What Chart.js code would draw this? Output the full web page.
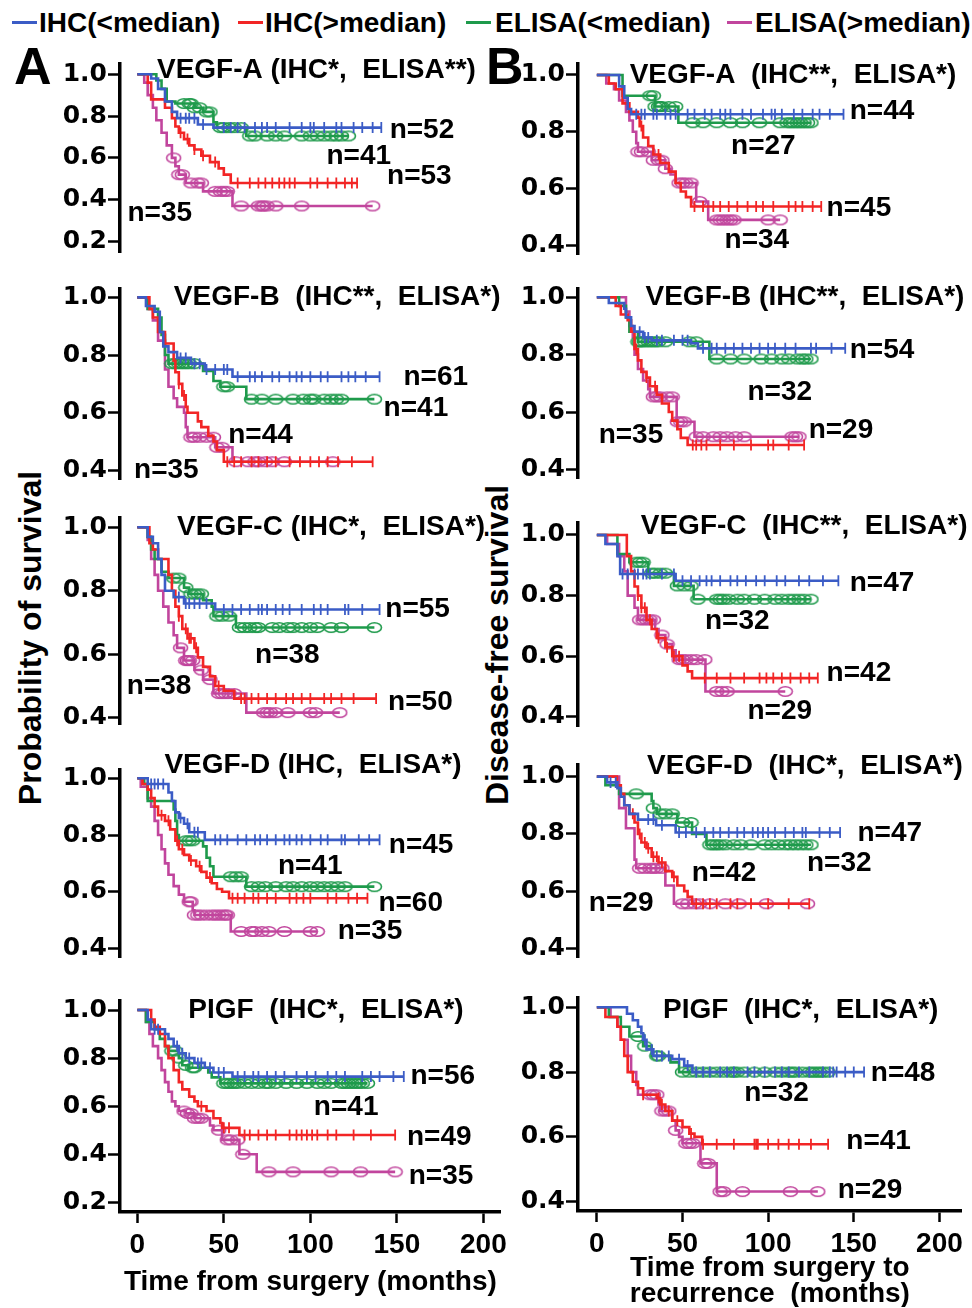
<!DOCTYPE html>
<html>
<head>
<meta charset="utf-8">
<title>VEGF family Kaplan-Meier curves</title>
<script src="https://cdn.jsdelivr.net/npm/chart.js@4.4.1/dist/chart.umd.min.js"></script>
<style>
  body { margin: 0; background: #fff; }
  #page { position: relative; width: 972px; height: 1308px; overflow: hidden; background: #fff; }
  #page canvas { position: absolute; }
  .txt { position: absolute; font-family: "Liberation Sans", Arial, sans-serif; font-weight: bold; color: #000; white-space: nowrap; }
  .dash { position: absolute; height: 3px; }
</style>
</head>
<body>
<div id="page"></div>
<script>
// ---- axis ticks / labels ----
const xTicks = [0, 50, 100, 150, 200];
const yTicksLong = [0.2, 0.4, 0.6, 0.8, 1.0];
const yTicksShort = [0.4, 0.6, 0.8, 1.0];
const groupNames = ['IHC(<median)', 'IHC(>median)', 'ELISA(<median)', 'ELISA(>median)'];
const osTitles = ['VEGF-A (IHC*,  ELISA**)', 'VEGF-B  (IHC**,  ELISA*)', 'VEGF-C (IHC*,  ELISA*)', 'VEGF-D (IHC,  ELISA*)', 'PIGF  (IHC*,  ELISA*)'];
const dfsTitles = ['VEGF-A  (IHC**,  ELISA*)', 'VEGF-B (IHC**,  ELISA*)', 'VEGF-C  (IHC**,  ELISA*)', 'VEGF-D  (IHC*,  ELISA*)', 'PIGF  (IHC*,  ELISA*)'];

// ---- overall survival (left column). _t event times, _s survival after event, _c censored times ----
const osA_ihcLo_t = [0, 8, 12, 16, 20, 23, 35, 44];
const osA_ihcLo_s = [1, .98, .93, .87, .82, .79, .76, .745];
const osA_ihcLo_c = [25, 28, 30, 33, 38, 50, 54, 58, 62, 68, 72, 75, 80, 88, 95, 100, 102, 108, 115, 118, 125, 130, 136, 141];
const osA_ihcHi_t = [0, 6, 8, 16, 20, 22, 24, 27, 30, 33, 37, 42, 47, 50, 54];
const osA_ihcHi_s = [1, .96, .88, .84, .79, .75, .72, .69, .66, .64, .61, .58, .55, .52, .48];
const osA_ihcHi_c = [25, 29, 33, 38, 45, 58, 65, 70, 74, 78, 82, 85, 88, 91, 100, 104, 110, 115, 120, 124, 127];
const osA_elLo_t = [0, 11, 14, 17, 22, 33, 38, 44, 46, 63];
const osA_elLo_s = [1, .97, .93, .87, .86, .84, .82, .77, .745, .705];
const osA_elLo_c = [27, 30, 31, 33, 36, 40, 42, 48, 50, 53, 56, 60, 65, 68, 75, 80, 85, 95, 100, 104, 108, 112, 115, 118, 122];
const osA_elHi_t = [0, 4, 6, 9, 11, 14, 17, 20, 22, 24, 28, 38, 55];
const osA_elHi_s = [1, .96, .9, .84, .78, .72, .66, .6, .56, .52, .48, .44, .37];
const osA_elHi_c = [21, 24, 26, 31, 35, 37, 45, 48, 50, 52, 60, 70, 72, 73, 75, 80, 95, 136];
const osA_n = [52, 41, 53, 35];

const osB_ihcLo_t = [0, 5, 10, 13, 15, 18, 23, 31, 39, 55];
const osB_ihcLo_s = [1, .97, .95, .88, .83, .81, .79, .77, .75, .725];
const osB_ihcLo_c = [25, 28, 33, 36, 40, 45, 50, 52, 58, 65, 68, 72, 78, 82, 88, 92, 95, 100, 106, 110, 118, 122, 126, 132, 140];
const osB_ihcHi_t = [0, 7, 9, 12, 16, 21, 22, 24, 26, 28, 29, 35, 37, 41, 44, 46, 50];
const osB_ihcHi_s = [1, .96, .93, .88, .84, .78, .74, .7, .66, .62, .6, .57, .55, .52, .5, .47, .43];
const osB_ihcHi_c = [24, 27, 52, 56, 60, 66, 70, 75, 80, 88, 94, 100, 105, 110, 116, 124, 136];
const osB_elLo_t = [0, 6, 12, 14, 16, 18, 38, 44, 48, 63];
const osB_elLo_s = [1, .96, .93, .87, .8, .77, .745, .71, .69, .647];
const osB_elLo_c = [20, 22, 24, 26, 28, 30, 33, 50, 52, 66, 72, 80, 90, 96, 100, 102, 108, 112, 115, 118, 137];
const osB_elHi_t = [0, 6, 9, 12, 16, 18, 21, 23, 27, 28, 29, 45, 55];
const osB_elHi_s = [1, .96, .92, .85, .75, .69, .65, .62, .6, .55, .515, .48, .43];
const osB_elHi_c = [31, 33, 36, 40, 44, 46, 49, 57, 64, 68, 70, 74, 78, 85, 113];
const osB_n = [61, 41, 44, 35];

const osC_ihcLo_t = [0, 6, 9, 12, 14, 16, 21, 27, 45];
const osC_ihcLo_s = [1, .97, .95, .9, .85, .8, .78, .76, .741];
const osC_ihcLo_c = [24, 28, 30, 33, 36, 40, 50, 55, 60, 65, 70, 72, 75, 80, 84, 88, 95, 102, 106, 110, 120, 122, 130, 140];
const osC_ihcHi_t = [0, 7, 9, 12, 18, 20, 22, 24, 26, 29, 33, 35, 38, 42, 45, 50, 56];
const osC_ihcHi_s = [1, .95, .93, .9, .85, .8, .75, .72, .68, .65, .62, .59, .56, .53, .5, .485, .46];
const osC_ihcHi_c = [24, 28, 30, 31, 34, 47, 60, 62, 66, 70, 75, 80, 86, 90, 95, 100, 108, 112, 118, 125, 138];
const osC_elLo_t = [0, 6, 8, 10, 14, 18, 27, 30, 38, 43, 44, 57];
const osC_elLo_s = [1, .97, .93, .9, .86, .84, .81, .79, .77, .75, .72, .684];
const osC_elLo_c = [21, 24, 28, 31, 33, 35, 37, 46, 49, 53, 59, 62, 65, 68, 70, 78, 82, 87, 90, 95, 100, 104, 112, 118, 137];
const osC_elHi_t = [0, 6, 8, 10, 12, 15, 18, 21, 23, 27, 33, 38, 44, 63];
const osC_elHi_s = [1, .96, .9, .85, .8, .75, .7, .66, .62, .58, .55, .52, .476, .416];
const osC_elHi_c = [25, 28, 29, 30, 32, 37, 42, 47, 49, 51, 53, 56, 73, 75, 77, 80, 87, 100, 103, 117];
const osC_n = [55, 38, 38, 50];

const osD_ihcLo_t = [0, 6, 18, 20, 22, 24, 27, 30, 39];
const osD_ihcLo_s = [1, .98, .95, .92, .88, .86, .84, .81, .783];
const osD_ihcLo_c = [8, 10, 12, 15, 25, 29, 33, 35, 45, 48, 52, 58, 63, 68, 71, 75, 80, 85, 88, 92, 95, 100, 106, 110, 118, 120, 128, 134, 140];
const osD_ihcHi_t = [0, 3, 6, 8, 10, 12, 16, 19, 22, 24, 27, 30, 34, 37, 40, 43, 46, 49, 53];
const osD_ihcHi_s = [1, .98, .96, .93, .9, .87, .85, .82, .78, .75, .73, .71, .69, .67, .65, .63, .61, .6, .577];
const osD_ihcHi_c = [14, 18, 23, 26, 31, 36, 42, 55, 58, 62, 67, 70, 75, 80, 88, 92, 96, 100, 110, 115, 122, 127, 133];
const osD_elLo_t = [0, 4, 6, 21, 22, 23, 24, 38, 40, 42, 44, 63];
const osD_elLo_s = [1, .98, .92, .89, .85, .8, .78, .76, .72, .69, .653, .618];
const osD_elLo_c = [28, 30, 32, 54, 57, 60, 66, 70, 74, 80, 86, 90, 95, 100, 104, 108, 112, 116, 120, 137];
const osD_elHi_t = [0, 2, 6, 8, 10, 12, 14, 16, 18, 21, 24, 27, 32, 33, 54];
const osD_elHi_s = [1, .97, .93, .9, .85, .8, .75, .7, .66, .62, .59, .565, .535, .518, .46];
const osD_elHi_c = [30, 31, 33, 35, 37, 40, 43, 45, 47, 49, 51, 52, 60, 66, 68, 72, 76, 85, 100, 104];
const osD_n = [45, 41, 60, 35];

const osP_ihcLo_t = [0, 6, 8, 16, 18, 21, 24, 28, 33, 39, 44, 55];
const osP_ihcLo_s = [1, .96, .92, .9, .88, .85, .82, .8, .78, .76, .74, .723];
const osP_ihcLo_c = [10, 12, 23, 26, 30, 35, 37, 42, 47, 50, 58, 62, 67, 70, 75, 80, 85, 92, 98, 103, 110, 115, 120, 130, 135, 140, 148, 154];
const osP_ihcHi_t = [0, 8, 10, 13, 16, 18, 21, 24, 26, 30, 33, 35, 40, 44, 48, 49, 59];
const osP_ihcHi_s = [1, .96, .93, .9, .85, .8, .75, .7, .67, .64, .62, .6, .58, .55, .53, .51, .48];
const osP_ihcHi_c = [37, 50, 53, 62, 65, 70, 75, 80, 88, 92, 95, 98, 101, 104, 110, 115, 125, 135, 149];
const osP_elLo_t = [0, 5, 10, 13, 16, 18, 24, 26, 30, 41, 43, 48];
const osP_elLo_s = [1, .95, .92, .88, .85, .83, .8, .77, .76, .74, .72, .695];
const osP_elLo_c = [20, 22, 24, 28, 32, 33, 50, 52, 54, 56, 58, 62, 66, 70, 74, 76, 80, 86, 92, 98, 104, 108, 112, 118, 120, 122, 124, 126, 128, 130, 133];
const osP_elHi_t = [0, 5, 7, 9, 12, 14, 16, 18, 20, 22, 24, 28, 33, 42, 44, 49, 59, 69];
const osP_elHi_s = [1, .95, .9, .85, .8, .75, .7, .66, .62, .6, .58, .57, .55, .52, .5, .46, .4, .327];
const osP_elHi_c = [27, 29, 31, 33, 35, 37, 47, 52, 54, 58, 61, 76, 90, 112, 129, 149];
const osP_n = [56, 41, 49, 35];

// ---- disease-free survival (right column) ----
const dfsA_ihcLo_t = [0, 13, 16, 18, 20];
const dfsA_ihcLo_s = [1, .96, .92, .88, .862];
const dfsA_ihcLo_c = [23, 26, 28, 33, 35, 40, 43, 46, 53, 57, 63, 67, 72, 75, 78, 85, 90, 97, 102, 104, 108, 115, 120, 126, 130, 136, 144];
const dfsA_ihcHi_t = [0, 7, 11, 15, 19, 24, 25, 27, 30, 33, 37, 42, 46, 49, 52, 55];
const dfsA_ihcHi_s = [1, .97, .95, .9, .87, .85, .82, .78, .75, .72, .69, .66, .62, .59, .57, .537];
const dfsA_ihcHi_c = [26, 36, 57, 62, 68, 72, 77, 82, 88, 93, 97, 103, 112, 116, 120, 126, 131];
const dfsA_elLo_t = [0, 15, 34, 47.6];
const dfsA_elLo_s = [1, .927, .889, .832];
const dfsA_elLo_c = [31, 33, 34, 36, 37, 38, 42, 46, 56, 62, 70, 78, 85, 95, 107, 111, 113, 115, 117, 119, 121, 123, 125];
const dfsA_elHi_t = [0, 5.5, 10, 13, 17, 19, 21, 23, 24, 32, 40, 43, 46, 58, 65];
const dfsA_elHi_s = [1, .97, .95, .91, .87, .84, .8, .76, .73, .7, .67, .65, .62, .555, .49];
const dfsA_elHi_c = [24, 26, 30, 33, 36, 38, 40, 48, 50, 52, 55, 60, 70, 72, 74, 76, 78, 80, 100, 107];
const dfsA_n = [44, 27, 45, 34];

const dfsB_ihcLo_t = [0, 7, 16, 17, 20, 22, 27, 32, 55, 59];
const dfsB_ihcLo_s = [1, .98, .96, .93, .9, .88, .86, .85, .84, .822];
const dfsB_ihcLo_c = [25, 28, 30, 35, 38, 45, 50, 53, 62, 67, 70, 75, 80, 85, 90, 95, 100, 104, 110, 116, 125, 128, 137, 145];
const dfsB_ihcHi_t = [0, 11, 14, 18, 20, 22, 24, 26, 29, 31, 35, 38, 42, 44, 47, 49, 53];
const dfsB_ihcHi_s = [1, .97, .94, .92, .88, .82, .78, .74, .72, .69, .66, .63, .6, .57, .54, .51, .485];
const dfsB_ihcHi_c = [23, 29, 34, 56, 58, 61, 64, 72, 80, 90, 100, 103, 112, 121];
const dfsB_elLo_t = [0, 13, 17, 19, 24, 65.7];
const dfsB_elLo_s = [1, .97, .93, .88, .845, .785];
const dfsB_elLo_c = [24, 25, 26, 28, 30, 32, 34, 36, 40, 54, 58, 70, 78, 86, 96, 102, 108, 112, 117, 120, 122, 125];
const dfsB_elHi_t = [0, 17, 19, 21, 22, 24, 27, 30, 31, 46.6, 57];
const dfsB_elHi_s = [1, .95, .9, .86, .8, .75, .71, .68, .653, .566, .514];
const dfsB_elHi_c = [33, 35, 37, 41, 44, 47, 49, 51, 58, 62, 68, 72, 76, 81, 86, 114, 116, 118];
const dfsB_n = [54, 32, 35, 29];

const dfsC_ihcLo_t = [0, 5, 12, 13.6, 46];
const dfsC_ihcLo_s = [1, .97, .93, .871, .849];
const dfsC_ihcLo_c = [15, 18, 22, 24, 27, 29, 31, 38, 45, 50, 55, 60, 64, 67, 72, 78, 82, 87, 93, 98, 105, 110, 118, 124, 132, 141];
const dfsC_ihcHi_t = [0, 17.5, 20, 22, 24, 26, 29, 32, 35, 40, 44, 50, 53, 55.6];
const dfsC_ihcHi_s = [1, .93, .88, .83, .8, .76, .72, .69, .66, .63, .6, .57, .55, .528];
const dfsC_ihcHi_c = [24, 26, 28, 31, 36, 41, 45, 48, 63, 70, 78, 86, 95, 99, 103, 108, 113, 119, 124, 129];
const dfsC_elLo_t = [0, 12, 19, 30, 45, 56.5];
const dfsC_elLo_s = [1, .937, .91, .874, .832, .788];
const dfsC_elLo_c = [23, 25, 27, 32, 34, 37, 40, 47, 51, 55, 59, 70, 72, 74, 77, 82, 86, 92, 98, 104, 108, 112, 115, 118, 121, 125];
const dfsC_elHi_t = [0, 6, 13, 16, 18, 22, 24, 34, 36, 40, 44, 46, 63.4];
const dfsC_elHi_s = [1, .97, .93, .88, .8, .76, .72, .69, .67, .64, .62, .589, .484];
const dfsC_elHi_c = [25, 27, 29, 31, 33, 38, 41, 48, 50, 52, 55, 58, 63, 70, 73, 76, 110];
const dfsC_n = [47, 32, 42, 29];

const dfsD_ihcLo_t = [0, 6, 12, 14, 16, 19, 24, 34.6, 46];
const dfsD_ihcLo_s = [1, .98, .96, .93, .9, .87, .85, .83, .805];
const dfsD_ihcLo_c = [8, 11, 30, 33, 38, 48, 52, 58, 63, 68, 72, 77, 82, 86, 91, 94, 97, 100, 104, 110, 115, 120, 122, 130, 136, 142];
const dfsD_ihcHi_t = [0, 11.7, 14, 16, 19, 22, 24, 26, 29, 32, 36, 40, 44, 47, 51, 53, 55.6];
const dfsD_ihcHi_s = [1, .97, .94, .9, .87, .84, .8, .77, .75, .72, .7, .67, .65, .62, .6, .58, .556];
const dfsD_ihcHi_c = [21, 25, 28, 30, 33, 35, 38, 45, 58, 62, 66, 70, 78, 82, 90, 100, 112, 124];
const dfsD_elLo_t = [0, 5, 13, 32, 33, 35, 47, 55.6, 64];
const dfsD_elLo_s = [1, .97, .94, .915, .89, .87, .84, .8, .762];
const dfsD_elLo_c = [23, 33, 37, 40, 44, 50, 55, 66, 68, 70, 72, 75, 80, 84, 90, 98, 102, 106, 110, 113, 116, 119, 122, 125];
const dfsD_elHi_t = [0, 13, 17, 22, 23, 40, 45];
const dfsD_elHi_s = [1, .89, .82, .71, .68, .62, .556];
const dfsD_elHi_c = [25, 28, 31, 33, 35, 38, 50, 53, 57, 60, 66, 75, 83, 99, 123];
const dfsD_n = [47, 32, 42, 29];

const dfsP_ihcLo_t = [0, 17.6, 21, 24, 26, 27, 29, 33, 44, 51, 55.8];
const dfsP_ihcLo_s = [1, .98, .96, .94, .92, .9, .87, .85, .84, .82, .8];
const dfsP_ihcLo_c = [28, 32, 35, 38, 42, 48, 53, 58, 62, 66, 72, 76, 80, 88, 92, 98, 104, 108, 112, 118, 124, 132, 136, 138, 140, 145, 150, 156];
const dfsP_ihcHi_t = [0, 5, 12, 14, 16, 18, 21, 24, 27, 35, 37, 40, 44, 50, 54, 57, 61.5];
const dfsP_ihcHi_s = [1, .97, .94, .9, .85, .8, .77, .75, .73, .72, .7, .68, .65, .63, .61, .6, .577];
const dfsP_ihcHi_c = [27, 36, 38, 42, 47, 55, 62, 70, 80, 92, 93, 94, 100, 106, 112, 118, 125, 135];
const dfsP_elLo_t = [0, 7, 14, 19, 27, 32, 43, 48];
const dfsP_elLo_s = [1, .97, .94, .91, .88, .85, .83, .8];
const dfsP_elLo_c = [24, 28, 35, 36, 50, 54, 58, 62, 66, 70, 74, 78, 80, 82, 86, 92, 98, 104, 108, 112, 114, 116, 120, 124, 126, 128, 130, 132, 135];
const dfsP_elHi_t = [0, 8, 12, 14, 18, 20, 23, 24, 36, 37, 44, 46, 48, 50, 60.5, 70];
const dfsP_elHi_s = [1, .97, .94, .9, .85, .8, .76, .73, .7, .68, .65, .62, .6, .58, .518, .431];
const dfsP_elHi_c = [31, 33, 35, 38, 40, 42, 46, 52, 54, 56, 63, 65, 72, 74, 85, 113, 129];
const dfsP_n = [48, 32, 41, 29];

// ---- styling / layout ----
const FONT = '"Liberation Sans", Arial, sans-serif';
const TICK_FONT = '"DejaVu Sans", sans-serif';
const COLORS = ['#3b5cc6', '#f22525', '#1e9a4b', '#c1459d'];
const PAD_TOP = 30, PAD_BOTTOM = 14, X_AXIS_H = 96;

const page = document.getElementById('page');

function addText(str, left, top, size, rotate) {
  const d = document.createElement('div');
  d.className = 'txt';
  d.textContent = str;
  d.style.left = left + 'px';
  d.style.top = top + 'px';
  d.style.fontSize = size + 'px';
  d.style.lineHeight = size + 'px';
  if (rotate) {
    d.style.width = '420px';
    d.style.textAlign = 'center';
    d.style.transform = 'rotate(-90deg)';
  }
  page.appendChild(d);
  return d;
}

// legend across the top
const legendPos = [[12, 39], [238, 265], [466, 495], [727, 755]];
groupNames.forEach((name, i) => {
  const dash = document.createElement('div');
  dash.className = 'dash';
  dash.style.left = legendPos[i][0] + 'px';
  dash.style.top = '21px';
  dash.style.width = '25px';
  dash.style.background = COLORS[i];
  page.appendChild(dash);
  addText(name, legendPos[i][1], 9, 28);
});

addText('A', 14, 40, 52);
addText('B', 486, 40, 52);
addText('Probability of survival', 30 - 210, 638 - 16, 32, true);
addText('Disease-free survival', 497 - 210, 645 - 16, 32, true);

// censor ring marker
function ring(color) {
  const c = document.createElement('canvas');
  c.width = 17; c.height = 13;
  const g = c.getContext('2d');
  g.strokeStyle = color;
  g.lineWidth = 1.6;
  g.beginPath();
  g.ellipse(8.5, 6.5, 7, 4.7, 0, 0, Math.PI * 2);
  g.stroke();
  return c;
}

function kmPoints(t, s, c) {
  const pts = t.map((v, i) => ({ x: v, y: s[i] }));
  const end = Math.max(...c);
  if (end > t[t.length - 1]) pts.push({ x: end, y: s[s.length - 1] });
  return pts;
}

function survAt(t, s, time) {
  let v = s[0];
  for (let i = 0; i < t.length; i++) if (t[i] <= time) v = s[i];
  return v;
}

const LEFT = { left: 0, axisW: 120, xMin: -10, xMax: 210, width: 508 };
const RIGHT = { left: 505, axisW: 73, xMin: -11, xMax: 213, width: 464 };

const panels = [
  { col: LEFT, title: osTitles[0], n: osA_n, yTicks: yTicksLong, top: 63.8, unit: 209.6, yMin: 0.15, yMax: 1.05,
    curves: [[osA_ihcLo_t, osA_ihcLo_s, osA_ihcLo_c], [osA_ihcHi_t, osA_ihcHi_s, osA_ihcHi_c], [osA_elLo_t, osA_elLo_s, osA_elLo_c], [osA_elHi_t, osA_elHi_s, osA_elHi_c]],
    titleAt: [103.5, 1.02], nAt: [[164.5, .734], [128, .61], [163, .51], [13, .335]] },
  { col: LEFT, title: osTitles[1], n: osB_n, yTicks: yTicksShort, top: 288.7, unit: 287.8, yMin: 0.37, yMax: 1.03,
    curves: [[osB_ihcLo_t, osB_ihcLo_s, osB_ihcLo_c], [osB_ihcHi_t, osB_ihcHi_s, osB_ihcHi_c], [osB_elLo_t, osB_elLo_s, osB_elLo_c], [osB_elHi_t, osB_elHi_s, osB_elHi_c]],
    titleAt: [115.5, 1.0], nAt: [[172.5, .724], [161, .615], [71.2, .52], [16.8, .40]] },
  { col: LEFT, title: osTitles[2], n: osC_n, yTicks: yTicksShort, top: 517.8, unit: 316.7, yMin: 0.38, yMax: 1.03,
    curves: [[osC_ihcLo_t, osC_ihcLo_s, osC_ihcLo_c], [osC_ihcHi_t, osC_ihcHi_s, osC_ihcHi_c], [osC_elLo_t, osC_elLo_s, osC_elLo_c], [osC_elHi_t, osC_elHi_s, osC_elHi_c]],
    titleAt: [112, 1.0], nAt: [[162, .741], [86.7, .597], [12.6, .5], [163.6, .45]] },
  { col: LEFT, title: osTitles[3], n: osD_n, yTicks: yTicksShort, top: 769.8, unit: 283.7, yMin: 0.37, yMax: 1.03,
    curves: [[osD_ihcLo_t, osD_ihcLo_s, osD_ihcLo_c], [osD_ihcHi_t, osD_ihcHi_s, osD_ihcHi_c], [osD_elLo_t, osD_elLo_s, osD_elLo_c], [osD_elHi_t, osD_elHi_s, osD_elHi_c]],
    titleAt: [101.5, 1.047], nAt: [[164, .765], [99.9, .69], [158, .561], [134.5, .46]] },
  { col: LEFT, title: osTitles[4], n: osP_n, yTicks: yTicksLong, top: 1000.4, unit: 240.4, yMin: 0.16, yMax: 1.04, bottom: true,
    xTitle: 'Time from surgery (months)', xTitlePad: 9, xTitleLh: 1.2,
    curves: [[osP_ihcLo_t, osP_ihcLo_s, osP_ihcLo_c], [osP_ihcHi_t, osP_ihcHi_s, osP_ihcHi_c], [osP_elLo_t, osP_elLo_s, osP_elLo_c], [osP_elHi_t, osP_elHi_s, osP_elHi_c]],
    titleAt: [109, 1.0], nAt: [[176.5, .725], [120.7, .595], [174.5, .47], [175.5, .31]] },

  { col: RIGHT, title: dfsTitles[0], n: dfsA_n, yTicks: yTicksShort, top: 63.6, unit: 284.4, yMin: 0.37, yMax: 1.04,
    curves: [[dfsA_ihcLo_t, dfsA_ihcLo_s, dfsA_ihcLo_c], [dfsA_ihcHi_t, dfsA_ihcHi_s, dfsA_ihcHi_c], [dfsA_elLo_t, dfsA_elLo_s, dfsA_elLo_c], [dfsA_elHi_t, dfsA_elHi_s, dfsA_elHi_c]],
    titleAt: [114.5, 1.0], nAt: [[166.5, .871], [97.2, .748], [153, .531], [93.4, .417]] },
  { col: RIGHT, title: dfsTitles[1], n: dfsB_n, yTicks: yTicksShort, top: 288.7, unit: 286.7, yMin: 0.37, yMax: 1.03,
    curves: [[dfsB_ihcLo_t, dfsB_ihcLo_s, dfsB_ihcLo_c], [dfsB_ihcHi_t, dfsB_ihcHi_s, dfsB_ihcHi_c], [dfsB_elLo_t, dfsB_elLo_s, dfsB_elLo_c], [dfsB_elHi_t, dfsB_elHi_s, dfsB_elHi_c]],
    titleAt: [121.5, 1.0], nAt: [[166.5, .816], [106.8, .67], [19.9, .52], [142.5, .537]] },
  { col: RIGHT, title: dfsTitles[2], n: dfsC_n, yTicks: yTicksShort, top: 522.8, unit: 303.9, yMin: 0.37, yMax: 1.04,
    curves: [[dfsC_ihcLo_t, dfsC_ihcLo_s, dfsC_ihcLo_c], [dfsC_ihcHi_t, dfsC_ihcHi_s, dfsC_ihcHi_c], [dfsC_elLo_t, dfsC_elLo_s, dfsC_elLo_c], [dfsC_elHi_t, dfsC_elHi_s, dfsC_elHi_c]],
    titleAt: [121, 1.028], nAt: [[166.5, .841], [82, .715], [153, .545], [106.8, .42]] },
  { col: RIGHT, title: dfsTitles[3], n: dfsD_n, yTicks: yTicksShort, top: 765.2, unit: 286.7, yMin: 0.37, yMax: 1.04,
    curves: [[dfsD_ihcLo_t, dfsD_ihcLo_s, dfsD_ihcLo_c], [dfsD_ihcHi_t, dfsD_ihcHi_s, dfsD_ihcHi_c], [dfsD_elLo_t, dfsD_elLo_s, dfsD_elLo_c], [dfsD_elHi_t, dfsD_elHi_s, dfsD_elHi_c]],
    titleAt: [121.5, 1.035], nAt: [[171, .803], [141.5, .698], [74.3, .663], [14.2, .558]] },
  { col: RIGHT, title: dfsTitles[4], n: dfsP_n, yTicks: yTicksShort, top: 997.6, unit: 323.9, yMin: 0.371, yMax: 1.03, bottom: true,
    xTitle: ['Time from surgery to', 'recurrence  (months)'], xTitlePad: 0, xTitleLh: 0.93,
    curves: [[dfsP_ihcLo_t, dfsP_ihcLo_s, dfsP_ihcLo_c], [dfsP_ihcHi_t, dfsP_ihcHi_s, dfsP_ihcHi_c], [dfsP_elLo_t, dfsP_elLo_s, dfsP_elLo_c], [dfsP_elHi_t, dfsP_elHi_s, dfsP_elHi_c]],
    titleAt: [119, 0.992], nAt: [[178.8, .796], [104.9, .734], [164.5, .585], [159.5, .436]] },
];

const rings = COLORS.map(ring);

panels.forEach(p => {
  const chartH = (p.yMax - p.yMin) * p.unit;
  const canvasTop = Math.round(p.top - PAD_TOP);
  const padTop = p.top - canvasTop;
  const padBottom = p.bottom ? 0 : PAD_BOTTOM;
  const height = Math.round(padTop + chartH + padBottom + (p.bottom ? X_AXIS_H : 0));

  const cv = document.createElement('canvas');
  cv.width = p.col.width;
  cv.height = height;
  cv.style.left = p.col.left + 'px';
  cv.style.top = canvasTop + 'px';
  cv.style.width = p.col.width + 'px';
  cv.style.height = height + 'px';
  page.appendChild(cv);

  const datasets = [];
  p.curves.forEach(([t, s, c], i) => {
    datasets.push({
      data: kmPoints(t, s, c),
      borderColor: COLORS[i],
      borderWidth: 2.6,
      pointRadius: 0,
      stepped: true,
      fill: false,
      tension: 0,
    });
    datasets.push({
      data: c.map(ct => ({ x: ct, y: survAt(t, s, ct) })),
      showLine: false,
      pointStyle: i < 2 ? 'line' : rings[i],
      rotation: i < 2 ? 90 : 0,
      pointRadius: 5.5,
      pointBorderColor: COLORS[i],
      pointBackgroundColor: 'transparent',
      pointBorderWidth: 1.8,
    });
  });

  const panelText = {
    id: 'panelText',
    afterDraw(chart) {
      const { ctx, scales: { x, y } } = chart;
      ctx.save();
      ctx.fillStyle = '#000';
      ctx.textAlign = 'center';
      ctx.textBaseline = 'middle';
      ctx.font = 'bold 28px ' + FONT;
      ctx.fillText(p.title, x.getPixelForValue(p.titleAt[0]), y.getPixelForValue(p.titleAt[1]));
      p.n.forEach((v, i) => {
        ctx.fillText('n=' + v, x.getPixelForValue(p.nAt[i][0]), y.getPixelForValue(p.nAt[i][1]));
      });
      ctx.restore();
    }
  };

  new Chart(cv, {
    type: 'line',
    data: { datasets },
    options: {
      responsive: false,
      maintainAspectRatio: false,
      animation: false,
      devicePixelRatio: 1,
      events: [],
      layout: { padding: { top: padTop, bottom: padBottom, left: 0, right: 0 } },
      plugins: { legend: { display: false }, tooltip: { enabled: false } },
      scales: {
        x: {
          type: 'linear',
          min: p.col.xMin,
          max: p.col.xMax,
          display: !!p.bottom,
          afterBuildTicks: s => { s.ticks = xTicks.map(v => ({ value: v })); },
          afterFit: s => {
            s.height = p.bottom ? X_AXIS_H : 0;
            s.paddingLeft = 0;
            s.paddingRight = 0;
          },
          ticks: { color: '#000', font: { family: FONT, size: 28, weight: 'bold' }, padding: 5, maxRotation: 0, autoSkip: false },
          grid: { drawOnChartArea: false, tickLength: 11, tickWidth: 2.5, tickColor: '#000' },
          border: { width: 3.5, color: '#000' },
          title: {
            display: !!p.bottom,
            text: p.xTitle || '',
            color: '#000',
            font: { family: FONT, size: 28, weight: 'bold', lineHeight: p.xTitleLh || 1.2 },
            padding: { top: 0, bottom: p.xTitlePad || 0 },
          },
        },
        y: {
          type: 'linear',
          min: p.yMin,
          max: p.yMax,
          afterBuildTicks: s => { s.ticks = p.yTicks.map(v => ({ value: v })); },
          afterFit: s => { s.width = p.col.axisW; s.paddingTop = 0; s.paddingBottom = 0; },
          ticks: { color: '#000', font: { family: TICK_FONT, size: 25, weight: 'bold' }, padding: 1, callback: v => v.toFixed(1) },
          grid: { drawOnChartArea: false, tickLength: 12, tickWidth: 2.5, tickColor: '#000' },
          border: { width: 3.5, color: '#000' },
        },
      },
    },
    plugins: [panelText],
  });
});
</script>
</body>
</html>
